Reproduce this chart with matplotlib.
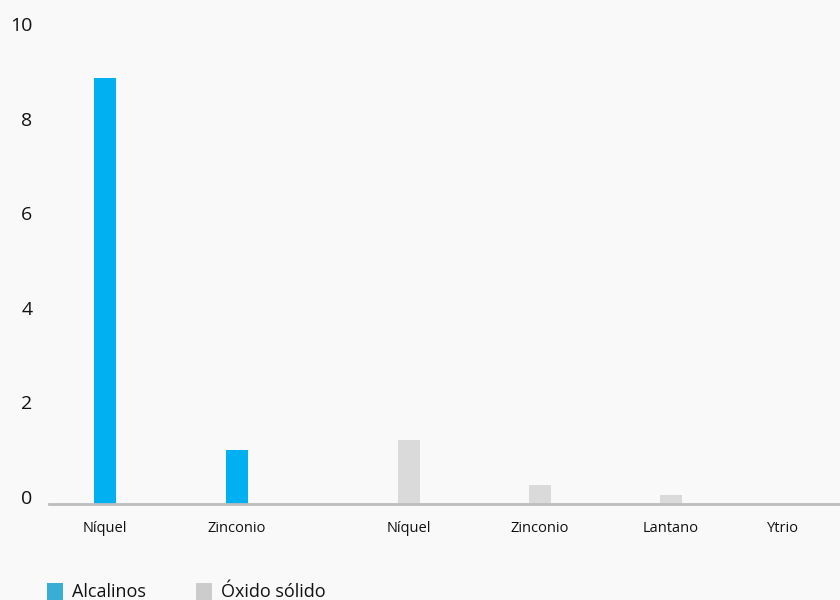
import matplotlib
matplotlib.use("Agg")
import matplotlib.pyplot as plt
from matplotlib.patches import Rectangle

plt.rcParams['font.family'] = ['Open Sans', 'DejaVu Sans']

# Data
categories = ["Níquel", "Zinconio", "Níquel", "Zinconio", "Lantano", "Ytrio"]
series = ["Alcalinos", "Alcalinos", "Óxido sólido", "Óxido sólido", "Óxido sólido", "Óxido sólido"]
values = [9.0, 1.14, 1.35, 0.4, 0.2, 0.0]
series_names = ["Alcalinos", "Óxido sólido"]
y_ticks = [0, 2, 4, 6, 8, 10]

# Layout (horizontal slot centres, in pixel-like axis units)
x_pos = [105, 237, 409, 540, 671, 783]
bar_colors = {"Alcalinos": "#00b0f0", "Óxido sólido": "#dadada"}
legend_colors = {"Alcalinos": "#39aed5", "Óxido sólido": "#cccccc"}
bg = "#f9f9f9"
text_color = "#111111"

W, H = 840, 600
fig = plt.figure(figsize=(W / 100, H / 100), dpi=100, facecolor=bg)
ax = fig.add_axes([49 / W, 96 / H, 1 - 49 / W, 473 / H])
ax.set_facecolor(bg)

ax.bar(x_pos, values, width=22, color=[bar_colors[s] for s in series],
       zorder=2, linewidth=0)

ax.set_xlim(49, 840)
ax.set_ylim(0, 10)

for side in ("top", "right", "left"):
    ax.spines[side].set_visible(False)
ax.spines["bottom"].set_color("#bdbdbd")
ax.spines["bottom"].set_linewidth(2)
ax.spines["bottom"].set_zorder(3)

ax.set_yticks(y_ticks)
ax.set_yticklabels([str(t) for t in y_ticks], fontsize=14, color=text_color)
for lbl in ax.get_yticklabels():
    lbl.set_verticalalignment("baseline")
ax.tick_params(axis="y", length=0, pad=12)

ax.set_xticks(x_pos)
ax.set_xticklabels(categories, fontsize=10.5, color=text_color)
ax.tick_params(axis="x", length=0, pad=12)

# Legend drawn along the bottom edge
legend_x = [47, 196]
for name, lx in zip(series_names, legend_x):
    fig.patches.append(Rectangle((lx / W, 1 - 600 / H), 16 / W, 17 / H,
                                 transform=fig.transFigure,
                                 facecolor=legend_colors[name], linewidth=0))
    fig.text((lx + 25) / W, 1 - 597 / H, name, fontsize=13,
             color=text_color, va="baseline", ha="left")

fig.savefig("out.png", dpi=100, facecolor=bg)
